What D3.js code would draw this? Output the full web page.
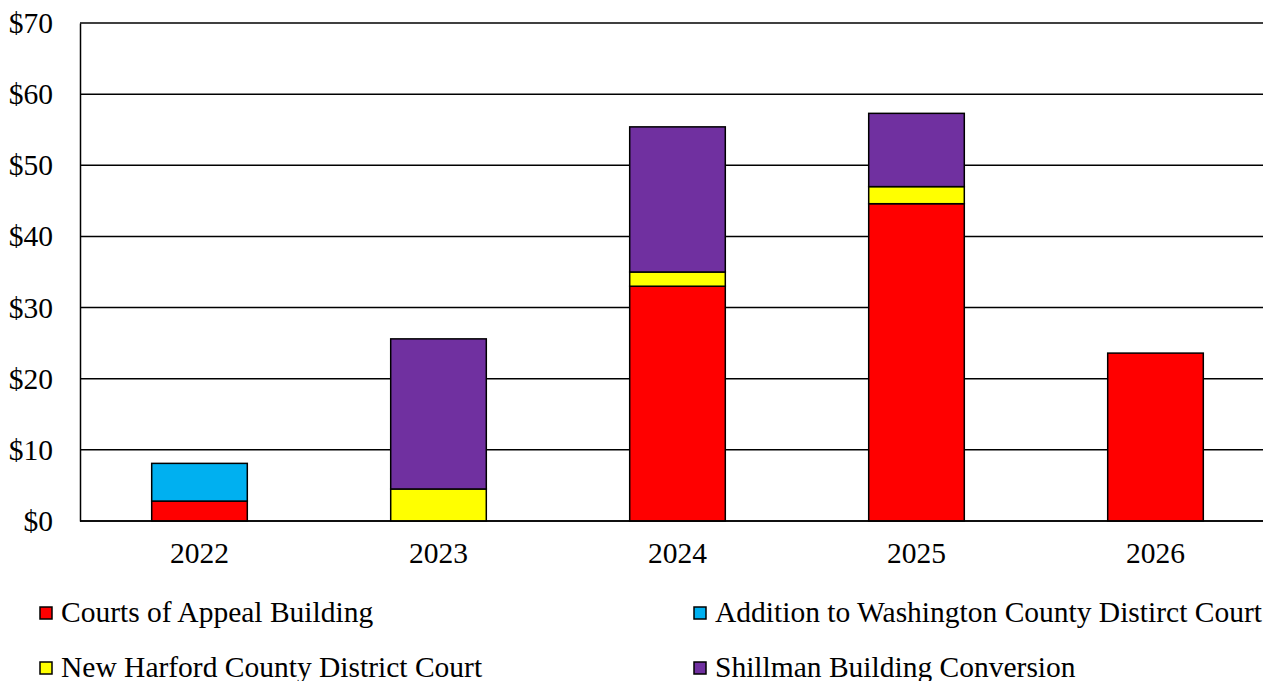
<!DOCTYPE html>
<html>
<head>
<meta charset="utf-8">
<script src="https://cdn.jsdelivr.net/npm/d3@7"></script>
<style>
  body { margin: 0; background: #fff; overflow: hidden; }
  text { font-family: "Liberation Serif", "Times New Roman", serif; fill: #000; }
</style>
</head>
<body>
<div id="chart"></div>
<script>
// years on the x axis
const years = ["2022", "2023", "2024", "2025", "2026"];

// series names, in stacking order (bottom to top)
const seriesNames = [
  "Courts of Appeal Building",
  "Addition to Washington County Distirct Court",
  "New Harford County District Court",
  "Shillman Building Conversion"
];
const seriesColors = ["#ff0000", "#00b0f0", "#ffff00", "#7030a0"];

// values in $ millions, per year
const courtsOfAppeal = [2.8, 0, 33.0, 44.6, 23.6];
const washingtonAddition = [5.3, 0, 0, 0, 0];
const harfordCourt = [0, 4.5, 2.0, 2.4, 0];
const shillman = [0, 21.1, 20.4, 10.3, 0];

const yTicks = [0, 10, 20, 30, 40, 50, 60, 70];

const drawChart = function () {
  var width = 1263, height = 681;
  var margin = { top: 23, left: 80 };
  var fontSize = "29.5px";

  var svg = d3.select("#chart").append("svg")
    .attr("width", width)
    .attr("height", height);

  // build a table for the stack layout
  var table = years.map(function (y, i) {
    return {
      year: y,
      s0: courtsOfAppeal[i],
      s1: washingtonAddition[i],
      s2: harfordCourt[i],
      s3: shillman[i]
    };
  });
  var stack = d3.stack().keys(["s0", "s1", "s2", "s3"]);
  var layers = stack(table);

  // scales (the plot runs a little past the right edge of the page)
  var x = d3.scaleBand()
    .domain(years)
    .range([margin.left, margin.left + 5 * 239])
    .paddingInner(0.6)
    .paddingOuter(0.3);
  var y = d3.scaleLinear()
    .domain([0, 70])
    .range([521, margin.top]);

  // gridlines
  svg.append("g")
    .selectAll("line")
    .data(yTicks)
    .join("line")
    .attr("x1", margin.left)
    .attr("x2", width)
    .attr("y1", d => y(d))
    .attr("y2", d => y(d))
    .attr("stroke", "#000")
    .attr("stroke-width", 1.5);

  // y axis labels
  svg.append("g")
    .attr("transform", "translate(" + margin.left + ",0)")
    .call(d3.axisLeft(y).tickValues(yTicks).tickSize(0).tickPadding(27)
      .tickFormat(d => "$" + d))
    .call(g => g.select(".domain").attr("stroke", "#000").attr("stroke-width", 1.5))
    .selectAll("text")
    .style("font-family", "'Liberation Serif', 'Times New Roman', serif")
    .style("font-size", fontSize);

  // bars
  svg.append("g")
    .selectAll("g")
    .data(layers)
    .join("g")
    .attr("fill", (d, i) => seriesColors[i])
    .selectAll("rect")
    .data(d => d.filter(p => p[1] - p[0] > 0))
    .join("rect")
    .attr("x", d => x(d.data.year))
    .attr("width", x.bandwidth())
    .attr("y", d => y(d[1]))
    .attr("height", d => y(d[0]) - y(d[1]))
    .attr("stroke", "#000")
    .attr("stroke-width", 1.5);

  // x axis
  svg.append("g")
    .attr("transform", "translate(0," + y(0) + ")")
    .call(d3.axisBottom(x).tickSize(0).tickPadding(21))
    .call(g => g.select(".domain").remove())
    .selectAll("text")
    .style("font-family", "'Liberation Serif', 'Times New Roman', serif")
    .style("font-size", fontSize);

  svg.append("line")
    .attr("x1", margin.left).attr("x2", width)
    .attr("y1", y(0)).attr("y2", y(0))
    .attr("stroke", "#000").attr("stroke-width", 1.5);

  // legend, two columns
  var legendPos = [[40, 622], [694, 622], [40, 677], [694, 677]];
  var legend = svg.append("g")
    .selectAll("g")
    .data(seriesNames)
    .join("g")
    .attr("transform", (d, i) => "translate(" + legendPos[i][0] + "," + legendPos[i][1] + ")");

  legend.append("rect")
    .attr("x", 0)
    .attr("y", -15)
    .attr("width", 12)
    .attr("height", 12)
    .attr("fill", (d, i) => seriesColors[i])
    .attr("stroke", "#000")
    .attr("stroke-width", 1.5);

  legend.append("text")
    .attr("x", 21)
    .attr("y", 0)
    .style("font-size", fontSize)
    .text(d => d);
};

drawChart();
</script>
</body>
</html>
